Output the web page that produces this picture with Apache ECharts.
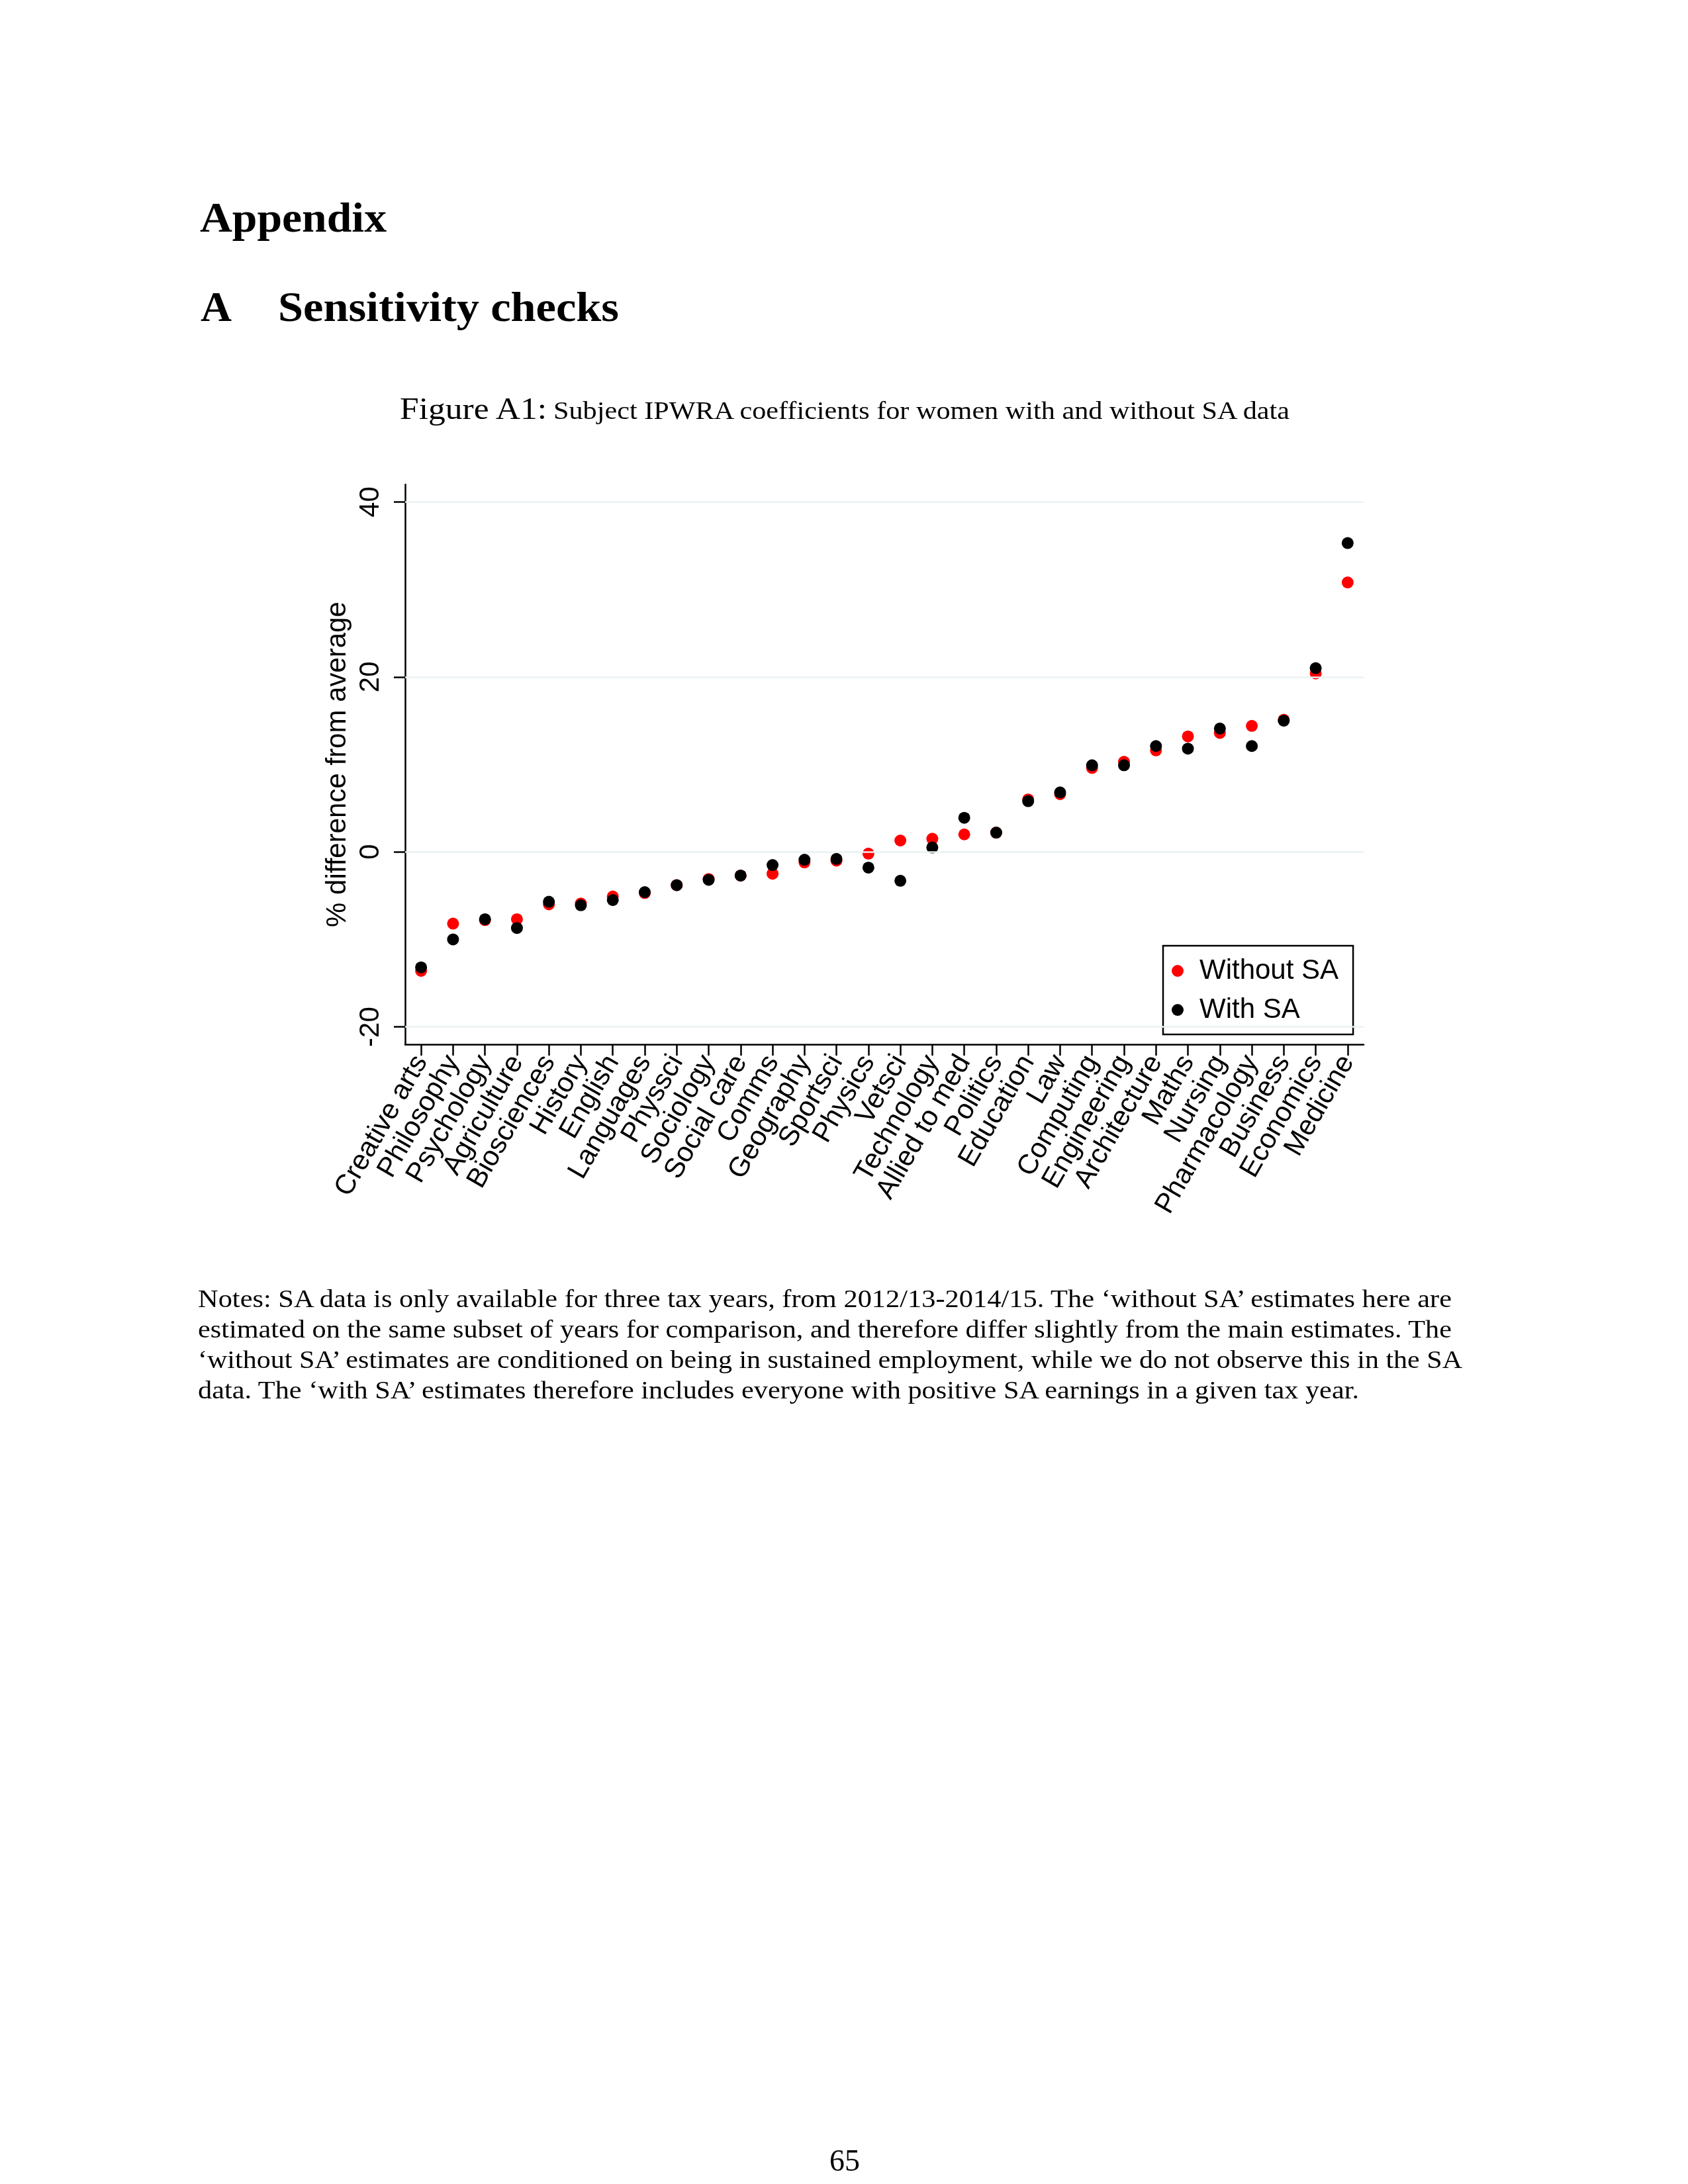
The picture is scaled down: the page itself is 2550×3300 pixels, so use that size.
<!DOCTYPE html>
<html>
<head>
<meta charset="utf-8">
<script src="https://cdn.jsdelivr.net/npm/echarts@6/dist/echarts.min.js"></script>
<style>
  html, body { margin: 0; padding: 0; background: #ffffff; }
  #page { position: relative; width: 2550px; height: 3300px; background: #ffffff; }
  #chart { position: absolute; left: 0; top: 0; width: 2550px; height: 3300px; }
  #txt { position: absolute; left: 0; top: 0; width: 2550px; height: 3300px; pointer-events: none; }
  #txt text { font-family: "Liberation Serif", "DejaVu Serif", serif; fill: #000; }
</style>
</head>
<body>
<div id="page">
  <div id="chart"></div>
  <svg id="txt" xmlns="http://www.w3.org/2000/svg" width="2550" height="3300">
    <text x="302" y="350" font-size="63" font-weight="bold" textLength="282" lengthAdjust="spacingAndGlyphs">Appendix</text>
    <text x="303" y="485" font-size="63" font-weight="bold" textLength="47" lengthAdjust="spacingAndGlyphs">A</text>
    <text x="420" y="485" font-size="63" font-weight="bold" textLength="515" lengthAdjust="spacingAndGlyphs">Sensitivity checks</text>
    <text x="604" y="633" font-size="46" textLength="222" lengthAdjust="spacingAndGlyphs">Figure A1:</text>
    <text x="836" y="633" font-size="37.5" textLength="1112" lengthAdjust="spacingAndGlyphs">Subject IPWRA coefficients for women with and without SA data</text>
    <text x="299" y="1975" font-size="37.5" textLength="1894" lengthAdjust="spacingAndGlyphs">Notes: SA data is only available for three tax years, from 2012/13-2014/15. The ‘without SA’ estimates here are</text>
    <text x="299" y="2021" font-size="37.5" textLength="1894" lengthAdjust="spacingAndGlyphs">estimated on the same subset of years for comparison, and therefore differ slightly from the main estimates. The</text>
    <text x="299" y="2067" font-size="37.5" textLength="1910" lengthAdjust="spacingAndGlyphs">‘without SA’ estimates are conditioned on being in sustained employment, while we do not observe this in the SA</text>
    <text x="299" y="2113" font-size="37.5" textLength="1754" lengthAdjust="spacingAndGlyphs">data. The ‘with SA’ estimates therefore includes everyone with positive SA earnings in a given tax year.</text>
    <text x="1276" y="3280" font-size="46" text-anchor="middle">65</text>
  </svg>
</div>
<script>
// ---- data ----
const categories = ['Creative arts','Philosophy','Psychology','Agriculture','Biosciences','History','English','Languages','Physsci','Sociology','Social care','Comms','Geography','Sportsci','Physics','Vetsci','Technology','Allied to med','Politics','Education','Law','Computing','Engineering','Architecture','Maths','Nursing','Pharmacology','Business','Economics','Medicine'];
const withoutSA = [-13.6,-8.2,-7.8,-7.7,-6.0,-5.9,-5.1,-4.7,-3.8,-3.1,-2.7,-2.5,-1.2,-1.0,-0.2,1.3,1.5,2.0,2.2,6.0,6.6,9.6,10.3,11.6,13.2,13.6,14.4,15.1,20.4,30.8];
const withSA = [-13.2,-10.0,-7.7,-8.7,-5.7,-6.1,-5.5,-4.6,-3.8,-3.2,-2.7,-1.5,-0.9,-0.8,-1.8,-3.3,0.5,3.9,2.2,5.8,6.8,9.9,9.9,12.1,11.8,14.1,12.1,15.0,21.0,35.3];
const yTicks = [-20, 0, 20, 40];
const yTitle = '% difference from average';

const chart = echarts.init(document.getElementById('chart'), null, { renderer: 'canvas', width: 2550, height: 3300 });
const sans = 'Liberation Sans';
const option = {
  backgroundColor: 'transparent',
  animation: false,
  grid: { left: 612, top: 732, width: 1448, height: 846, containLabel: false },
  legend: {
    orient: 'vertical',
    left: 1757, top: 1429,
    borderColor: '#000', borderWidth: 2.5, borderRadius: 0,
    backgroundColor: '#fff',
    padding: [17, 22, 16, 13],
    itemGap: 17,
    itemWidth: 18, itemHeight: 18,
    icon: 'circle',
    itemStyle: { opacity: 1 },
    textStyle: { fontFamily: sans, fontSize: 42, color: '#000', padding: [0, 0, 0, 19] },
    data: ['Without SA', 'With SA']
  },
  xAxis: {
    type: 'category',
    data: categories,
    boundaryGap: true,
    axisLine: { show: true, onZero: false, lineStyle: { color: '#000', width: 2.5 } },
    axisTick: { show: true, alignWithLabel: true, length: 17, lineStyle: { color: '#000', width: 2.5 } },
    axisLabel: { interval: 0, rotate: 60, margin: 20, fontFamily: sans, fontSize: 42, color: '#000' },
    splitLine: { show: false }
  },
  yAxis: {
    type: 'value',
    min: -22, max: 42,
    name: yTitle,
    nameLocation: 'middle',
    nameRotate: 90,
    nameGap: 76,
    nameTextStyle: { fontFamily: sans, fontSize: 42, color: '#000' },
    axisLine: { show: true, lineStyle: { color: '#000', width: 2.5 } },
    axisTick: { show: true, length: 17, customValues: yTicks, lineStyle: { color: '#000', width: 2.5 } },
    axisLabel: { rotate: 90, margin: 31, customValues: yTicks, fontFamily: sans, fontSize: 42, color: '#000' },
    splitLine: { show: false }
  },
  series: [
    {
      name: 'Without SA', type: 'scatter', data: withoutSA,
      symbol: 'circle', symbolSize: 18,
      itemStyle: { color: '#ff0000', opacity: 1 },
      z: 3,
      markLine: {
        silent: true, symbol: 'none', animation: false,
        label: { show: false },
        lineStyle: { color: '#eaf2f3', width: 2.5, type: 'solid', opacity: 1 },
        data: yTicks.map(v => ({ yAxis: v }))
      }
    },
    {
      name: 'With SA', type: 'scatter', data: withSA,
      symbol: 'circle', symbolSize: 18,
      itemStyle: { color: '#000000', opacity: 1 },
      z: 4
    }
  ]
};
chart.setOption(option);
</script>
</body>
</html>
